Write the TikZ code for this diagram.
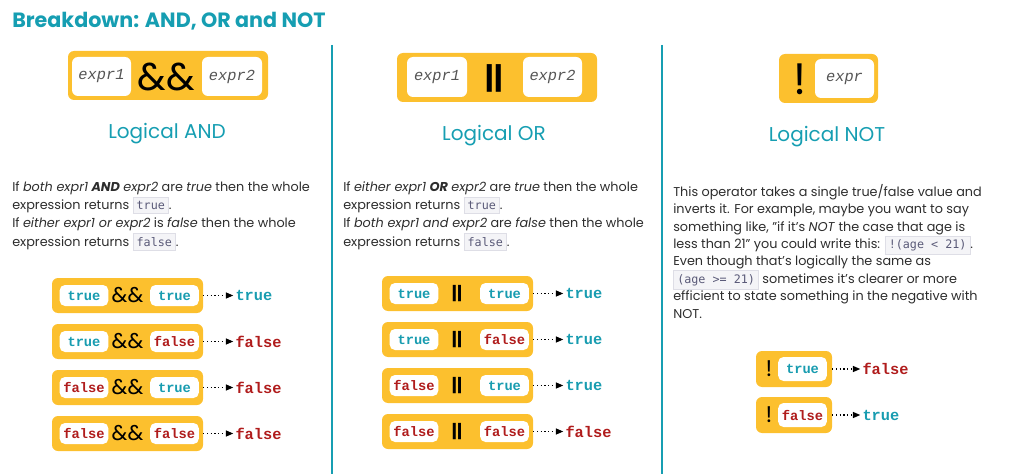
\documentclass[tikz,border=0pt]{standalone}
\usepackage{fontspec}
\setmainfont{Poppins}
\newfontfamily\exprfont{Liberation Mono}
\newfontfamily\codefont{DejaVu Sans Mono}
\usetikzlibrary{positioning, arrows.meta}
\definecolor{headteal}{RGB}{22,158,178}
\definecolor{valtrue}{RGB}{24,156,176}
\definecolor{valfalse}{RGB}{176,28,28}
\definecolor{opyellow}{RGB}{252,192,46}
\definecolor{bodytext}{RGB}{45,45,45}
\definecolor{exprgray}{RGB}{85,85,85}
\definecolor{codebg}{RGB}{244,244,247}
\definecolor{codeborder}{RGB}{222,222,230}
\definecolor{codetext}{RGB}{90,90,120}
\setlength{\fboxsep}{2.5pt}
\setlength{\fboxrule}{0.5pt}
\newcommand{\code}[1]{\raisebox{0pt}[0pt][0pt]{\fcolorbox{codeborder}{codebg}{\textcolor{codetext}{\codefont\fontsize{8.8}{10}\selectfont #1}}}}

\begin{document}
\begin{tikzpicture}[x=0.75pt, y=-0.75pt,
    opbox/.style={fill=opyellow, rounded corners=4.5pt, inner sep=0pt},
    slot/.style={fill=white, rounded corners=4pt, inner sep=0pt, minimum width=36.5pt, minimum height=15.75pt},
    expr/.style={fill=white, rounded corners=4.5pt, inner sep=0pt, minimum height=29.25pt, text=exprgray, font=\exprfont\itshape\fontsize{11.5}{12}\selectfont},
    tv/.style={font=\exprfont\bfseries\fontsize{10.3}{12}\selectfont},
    res/.style={inner sep=1.5pt, font=\exprfont\bfseries\fontsize{11.5}{12}\selectfont},
    flow/.style={dotted, line width=0.8pt, -{Triangle[length=5.5pt, width=4.5pt]}},
    heading/.style={text=headteal, font=\fontsize{15}{17}\selectfont},
    para/.style={anchor=north west, inner sep=0pt, align=left, text=bodytext, font=\fontsize{9.6}{13.75}\selectfont},
    colrule/.style={headteal, line width=1.1pt}]
    \useasboundingbox (0,0) rectangle (1024,474);

    % Title and column rules
    \node[anchor=base west, inner sep=0pt, text=headteal, font=\bfseries\fontsize{15.5}{18}\selectfont] (title) at (12,28) {Breakdown: AND, OR and NOT};
    \draw[colrule] (332,45) -- (332,474);
    \draw[colrule] (662,45) -- (662,474);

    % Logical AND
    \node[opbox, minimum width=150pt, minimum height=36.75pt] (andop) at (168,75.5) {};
    \node[expr, minimum width=44.25pt] (andx) at (101.5,76.5) {expr1};
    \node[expr, minimum width=45pt] (andy) at (232,76.5) {expr2};
    \node[font=\fontsize{29}{29}\selectfont] (andsym) at (166.5,77) {\&\&};
    \node[heading] (andtitle) at (167,134) {Logical AND};
    \node[para] (andtext) at (12,181) {If \textit{both expr1} \textbf{\textit{AND}} \textit{expr2} are \textit{true} then the whole\\
        expression returns \code{true}.\\
        If \textit{either expr1 or expr2} is \textit{false} then the whole\\
        expression returns \code{false}.};
    \foreach \i/\y/\a/\b/\r in {1/295.5/true/true/true, 2/341.5/true/false/false, 3/387.5/false/true/false, 4/433.5/false/false/false}{
        \node[opbox, minimum width=113.25pt, minimum height=26.25pt] (and\i) at (127.5,\y) {};
        \node[slot, tv, text=val\a] (and\i-a) at (84,\y) {\a};
        \node[slot, tv, text=val\b] (and\i-b) at (174.5,\y) {\b};
        \node[font=\fontsize{16}{16}\selectfont] (and\i-o) at (127.5,\y) {\&\&};
        \node[res, text=val\r, right=22.5pt of and\i] (and\i-r) {\r};
        \draw[flow] (and\i) -- (and\i-r);
    }

    % Logical OR
    \node[opbox, minimum width=150pt, minimum height=36.75pt] (orop) at (497,77.5) {};
    \node[expr, minimum width=45pt, minimum height=30pt] (orx) at (437,77) {expr1};
    \node[expr, minimum width=44.25pt, minimum height=30pt] (ory) at (552.5,77) {expr2};
    \node[font=\bfseries\fontsize{22}{22}\selectfont] (orsym) at (494.5,78) {||};
    \node[heading] (ortitle) at (494,136) {Logical OR};
    \node[para] (ortext) at (343,181) {If \textit{either expr1} \textbf{\textit{OR}} \textit{expr2} are \textit{true} then the whole\\
        expression returns \code{true}.\\
        If \textit{both expr1 and expr2} are \textit{false} then the whole\\
        expression returns \code{false}.};
    \foreach \i/\y/\a/\b/\r in {1/293.5/true/true/true, 2/339.5/true/false/true, 3/385.5/false/true/true, 4/431.5/false/false/false}{
        \node[opbox, minimum width=113.25pt, minimum height=26.25pt] (or\i) at (457.5,\y) {};
        \node[slot, tv, text=val\a] (or\i-a) at (414,\y) {\a};
        \node[slot, tv, text=val\b] (or\i-b) at (504.5,\y) {\b};
        \node[font=\bfseries\fontsize{13}{13}\selectfont] (or\i-o) at (457,\y) {||};
        \node[res, text=val\r, right=22.5pt of or\i] (or\i-r) {\r};
        \draw[flow] (or\i) -- (or\i-r);
    }

    % Logical NOT
    \node[opbox, minimum width=74.25pt, minimum height=36.75pt] (notop) at (828.5,78.5) {};
    \node[expr, minimum width=44.25pt] (notx) at (844.5,78.5) {expr};
    \node[font=\fontsize{33}{33}\selectfont] (notsym) at (800,79) {!};
    \node[heading] (nottitle) at (827,137) {Logical NOT};
    \node[para, font=\fontsize{9.6}{13.05}\selectfont] (nottext) at (673,184) {This operator takes a single true/false value and\\
        inverts it. For example, maybe you want to say\\
        something like, "if it's \textit{NOT} the case that age is\\
        less than 21" you could write this: \code{!(age < 21)}.\\
        Even though that's logically the same as\\
        \code{(age >= 21)} sometimes it's clearer or more\\
        efficient to state something in the negative with\\
        NOT.};
    \foreach \i/\y/\a/\r in {1/369/true/false, 2/415/false/true}{
        \node[opbox, minimum width=57pt, minimum height=27pt] (not\i) at (794,\y) {};
        \node[slot, tv, text=val\a, minimum height=18pt] (not\i-a) at (802.5,\y) {\a};
        \node[font=\fontsize{17}{17}\selectfont] (not\i-o) at (769,\y) {!};
        \node[res, text=val\r, right=21pt of not\i] (not\i-r) {\r};
        \draw[flow] (not\i) -- (not\i-r);
    }
\end{tikzpicture}
\end{document}
